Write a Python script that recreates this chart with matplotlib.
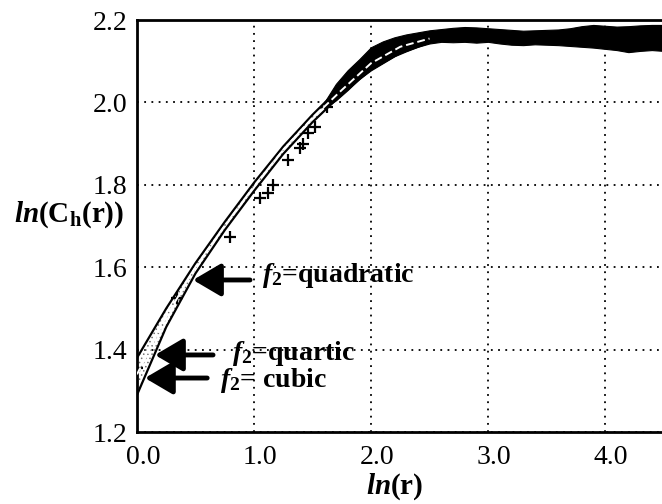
import numpy as np
import matplotlib
matplotlib.use('Agg')
import matplotlib.pyplot as plt
import matplotlib.transforms as mtransforms

plt.rcParams['font.family'] = 'Liberation Serif'
plt.rcParams['mathtext.fontset'] = 'custom'
plt.rcParams['mathtext.rm'] = 'Liberation Serif:bold'
plt.rcParams['mathtext.it'] = 'Liberation Serif:italic:bold'
plt.rcParams['mathtext.bf'] = 'Liberation Serif:bold'
plt.rcParams['hatch.linewidth'] = 0.6

# fitted curves
fitX = [0.0, 0.25, 0.5, 0.75, 1.0, 1.25, 1.5, 1.75, 2.0, 2.25, 2.5]
quadratic = [1.38, 1.50, 1.61, 1.71, 1.805, 1.893, 1.97, 2.04, 2.105, 2.14, 2.16]
quartic = [1.34, 1.48, 1.60, 1.70, 1.795, 1.885, 1.962, 2.03, 2.095, 2.135, 2.155]
cubic = [1.29, 1.455, 1.585, 1.69, 1.785, 1.875, 1.952, 2.02, 2.08, 2.12, 2.145]

# sparse data points (crosses)
ptsX = [0.0, 0.34, 0.795, 1.05, 1.12, 1.16, 1.29, 1.39, 1.42, 1.46, 1.52, 1.62]
ptsY = [1.355, 1.525, 1.673, 1.768, 1.78, 1.80, 1.86, 1.89, 1.90, 1.925, 1.94, 1.99]

# dense data band (upper / lower edges)
bandX = [1.6, 1.7, 1.8, 1.9, 2.0, 2.1, 2.2, 2.3, 2.4, 2.5, 2.6, 2.7, 2.8, 2.9, 3.0,
         3.1, 3.2, 3.3, 3.4, 3.5, 3.6, 3.7, 3.8, 3.9, 4.0, 4.1, 4.2, 4.3, 4.4, 4.5]
bandHi = [2.00, 2.045, 2.078, 2.105, 2.134, 2.148, 2.158, 2.165, 2.17, 2.175, 2.178, 2.181,
          2.183, 2.182, 2.18, 2.178, 2.176, 2.174, 2.175, 2.176, 2.177, 2.18, 2.185,
          2.188, 2.186, 2.184, 2.185, 2.187, 2.188, 2.188]
bandLo = [1.985, 2.005, 2.03, 2.057, 2.078, 2.095, 2.112, 2.124, 2.135, 2.143, 2.147, 2.146,
          2.147, 2.145, 2.147, 2.143, 2.14, 2.139, 2.141, 2.14, 2.139, 2.137, 2.135,
          2.133, 2.13, 2.127, 2.122, 2.125, 2.127, 2.125]

xTicks = [0.0, 1.0, 2.0, 3.0, 4.0]
yTicks = [1.2, 1.4, 1.6, 1.8, 2.0, 2.2]

fig = plt.figure(figsize=(6.62, 5.04), dpi=100)
ax = fig.add_axes([137 / 662, 72 / 504, 4.5 * 117 / 662, 412 / 504])

# stipple between the outer fits
ax.fill_between(fitX, cubic, quadratic, facecolor='none', edgecolor='0.45',
                hatch='....', lw=0, zorder=2)
ax.fill_between(bandX, bandLo, bandHi, color='black', lw=0.8, zorder=3)
ax.plot(ptsX, ptsY, '+', color='black', ms=9, mew=1.6, zorder=3)
ax.plot(fitX, quadratic, color='black', lw=1.6, zorder=4)
ax.plot(fitX, quartic, color='white', lw=1.4, ls=(0, (4, 2)), zorder=4)
ax.plot(fitX, cubic, color='black', lw=1.6, zorder=4)

ax.set_xlim(0, 4.5)
ax.set_ylim(1.2, 2.2)
ax.set_xticks(xTicks)
ax.set_yticks(yTicks)
ax.set_xticklabels([f'{v:.1f}' for v in xTicks])
ax.set_yticklabels([f'{v:.1f}' for v in yTicks])
ax.tick_params(labelsize=20, length=0, pad=7)
ax.tick_params(axis='x', pad=9)
offset = mtransforms.ScaledTranslation(6 / 100, 0, fig.dpi_scale_trans)
for lab in ax.get_xticklabels():
    lab.set_transform(lab.get_transform() + offset)

ax.grid(True, color='black', ls=(0, (1, 3)), lw=1.3)
ax.set_axisbelow(True)
for side in ['left', 'bottom', 'top']:
    ax.spines[side].set_linewidth(2)
ax.spines['right'].set_visible(False)

fig.text(69 / 662, 1 - 215 / 504, r'$\mathit{ln}(\mathrm{C}_\mathrm{h}(\mathrm{r}))$',
         fontsize=21, ha='center', va='center')
fig.text(395 / 662, 1 - 487 / 504, r'$\mathit{ln}(\mathrm{r})$',
         fontsize=21, ha='center', va='center')

arrow = dict(arrowstyle='-|>,head_length=0.85,head_width=0.5', mutation_scale=20,
             lw=3.5, color='black', shrinkA=0, shrinkB=0)
ax.annotate('', xy=(0.479, 1.569), xytext=(0.966, 1.569), arrowprops=arrow, zorder=5)
ax.annotate('', xy=(0.154, 1.387), xytext=(0.65, 1.387), arrowprops=arrow, zorder=5)
ax.annotate('', xy=(0.068, 1.331), xytext=(0.60, 1.331), arrowprops=arrow, zorder=5)

ax.text(1.07, 1.564, r'$f_\mathrm{2}$=quadratic', fontsize=20, fontweight='bold',
        va='baseline', zorder=5)
ax.text(0.81, 1.375, r'$f_\mathrm{2}$=quartic', fontsize=20, fontweight='bold',
        va='baseline', zorder=5)
ax.text(0.71, 1.309, r'$f_\mathrm{2}$= cubic', fontsize=20, fontweight='bold',
        va='baseline', zorder=5)

fig.savefig('out.png', dpi=100)
